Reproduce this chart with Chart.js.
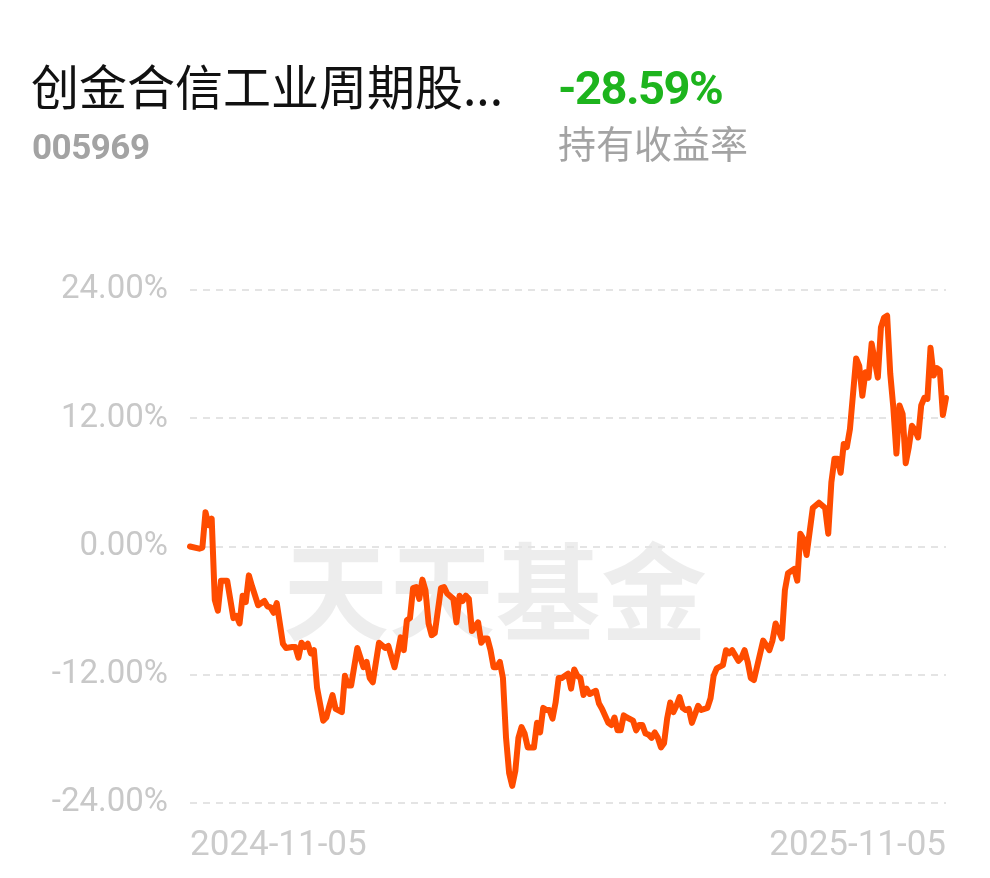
<!DOCTYPE html>
<html>
<head>
<meta charset="utf-8">
<script src="https://cdn.jsdelivr.net/npm/chart.js@4.4.1/dist/chart.umd.min.js"></script>
<style>
html,body{margin:0;padding:0;background:#fff;}
#wrap{position:relative;width:990px;height:878px;overflow:hidden;}
#c{position:absolute;left:0;top:0;}
.t{position:absolute;white-space:nowrap;line-height:1;}
#title{left:31px;top:49px;font:48px "Noto Sans CJK SC",sans-serif;color:#111;}
#pct{left:558px;top:60px;font:bold 47px Roboto,"Noto Sans",sans-serif;color:#1db41d;letter-spacing:-1.5px;}
#code{left:32px;top:127px;font:bold 35px Roboto,"Noto Sans",sans-serif;color:#a3a3a3;letter-spacing:-0.5px;}
#lbl{left:558px;top:114px;font:38px "Noto Sans CJK SC",sans-serif;color:#a3a3a3;}
</style>
</head>
<body>
<div id="wrap">
<canvas id="c" width="990" height="878"></canvas>
<div class="t" id="title">创金合信工业周期股...</div>
<div class="t" id="pct">-28.59%</div>
<div class="t" id="code">005969</div>
<div class="t" id="lbl">持有收益率</div>
</div>
<script>
const fundName = '创金合信工业周期股...';
const xTickLabels = ['2024-11-05', '2025-11-05'];
const yTicks = [-24, -12, 0, 12, 24];
const watermark = '天天基金';

// trading-day index since start
const dayIndex = [
0,3,4,5,6,7,8,9,10,12,14,15,16,17,18,19,20,22,24,25,26,27,28,30,31,33,34,35,36,37,38,39,40,41,43,44,45,46,47,49,50,51,52,54,56,57,58,59,
61,63,64,66,67,68,69,70,71,72,73,74,75,76,77,78,79,80,81,82,83,85,86,87,88,89,90,91,93,94,95,96,97,98,99,100,101,102,103,104,105,106,107,108,109,111,112,113,114,115,116,117,118,119,
120,122,123,124,125,126,127,128,129,131,132,133,135,136,137,138,139,140,141,143,144,145,146,147,148,149,150,151,152,153,154,155,156,157,158,159,160,161,162,164,165,167,168,169,170,172,173,174,175,177,178,179,180,181,182,
185,187,188,189,191,192,193,195,196,197,198,199,201,203,205,206,207,208,209,210,211,212,213,215,216,217,218,219,220,222,223,224,225,226,227,228,229,230,231,232,233,234,235,236,237,238,239,240,241,242,243,244
];
// holding return, %
const returns = [
0.0,-0.2,-0.1,3.2,2.0,2.6,-5.0,-6.0,-3.2,-3.2,-6.7,-6.5,-7.2,-4.6,-5.2,-2.7,-3.7,-5.5,-5.1,-5.6,-5.7,-6.2,-5.3,-9.1,-9.5,-9.4,-9.4,-10.4,-9.0,-9.4,-9.1,-10.0,-9.7,-13.2,-16.3,-16.0,-14.9,-13.9,-15.2,-15.5,-12.1,-13.0,-13.0,-9.5,-11.3,-10.8,-12.3,-12.7,
-9.0,-9.5,-9.3,-11.3,-10.0,-8.5,-9.7,-6.9,-6.7,-3.9,-3.8,-4.9,-3.1,-4.1,-7.2,-8.3,-8.1,-6.0,-3.9,-3.8,-4.4,-4.9,-7.1,-4.6,-5.1,-4.6,-4.9,-7.9,-7.1,-9.0,-8.6,-8.6,-9.7,-11.3,-11.3,-10.8,-12.3,-17.9,-21.2,-22.4,-21.0,-17.9,-16.9,-17.5,-18.8,-18.8,-16.5,-17.4,-15.1,-15.3,-15.3,-16.1,-14.6,-12.3,
-12.3,-11.9,-13.3,-11.5,-12.1,-12.3,-13.9,-13.3,-13.8,-13.5,-14.7,-15.2,-16.5,-16.7,-16.0,-17.2,-17.2,-15.8,-16.0,-16.3,-17.2,-16.7,-16.7,-17.5,-17.6,-17.9,-17.4,-17.9,-18.8,-18.4,-16.1,-14.6,-15.5,-14.9,-14.1,-15.1,-15.3,-15.2,-16.5,-14.9,-15.3,-15.1,-14.2,-12.1,-11.4,-11.1,-9.7,-10.0,-9.7,-10.7,-10.4,-9.7,-10.8,-12.3,-12.5,
-8.8,-9.7,-8.8,-7.2,-8.6,-4.1,-2.5,-2.1,-3.2,1.2,0.7,-0.8,3.6,4.1,3.6,1.2,6.0,8.2,8.2,6.9,9.6,9.3,11.0,17.6,16.9,14.1,16.3,15.8,19.0,15.8,20.5,21.4,21.6,16.2,13.0,8.7,13.2,12.4,7.8,9.3,11.3,10.9,10.2,13.2,13.9,13.8,18.6,16.0,16.7,16.5,12.3,13.9
];

const points = dayIndex.map((d, i) => ({x: d, y: returns[i]}));
const lastDay = dayIndex[dayIndex.length - 1];

const watermarkPlugin = {
  id: 'wm',
  beforeDraw(chart) {
    const ctx = chart.ctx;
    ctx.save();
    ctx.font = 'bold 106px "Noto Sans CJK SC", sans-serif';
    ctx.fillStyle = 'rgba(0,0,0,0.07)';
    ctx.textAlign = 'center';
    ctx.textBaseline = 'middle';
    const a = chart.chartArea;
    ctx.fillText(watermark, (a.left + a.right) / 2 - 73, chart.scales.y.getPixelForValue(-4.2));
    ctx.restore();
  }
};

new Chart(document.getElementById('c'), {
  type: 'line',
  data: {
    datasets: [{
      data: points,
      borderColor: 'rgb(255,76,0)',
      borderWidth: 6,
      pointRadius: 0,
      tension: 0,
      borderJoinStyle: 'round',
      borderCapStyle: 'round',
      fill: false
    }]
  },
  options: {
    responsive: false,
    animation: false,
    events: [],
    clip: false,
    layout: {padding: {left: 0, right: 44, top: 290, bottom: 0}},
    plugins: {legend: {display: false}, tooltip: {enabled: false}},
    scales: {
      x: {
        type: 'linear',
        min: 0,
        max: lastDay,
        afterBuildTicks: (s) => { s.ticks = [{value: 0}, {value: lastDay}]; },
        afterFit: (s) => { s.height = 75; },
        grid: {display: false, drawTicks: false},
        border: {display: false},
        ticks: {
          align: 'inner',
          maxRotation: 0,
          padding: 22,
          color: '#cbcbcb',
          font: {family: 'Roboto', size: 35},
          callback: (v, i) => xTickLabels[i]
        }
      },
      y: {
        min: -24,
        max: 24,
        afterBuildTicks: (s) => { s.ticks = yTicks.map(v => ({value: v})); },
        afterFit: (s) => { s.width = 190; },
        grid: {color: '#e4e4e4', lineWidth: 2, drawTicks: false},
        border: {display: false, dash: [7, 6]},
        ticks: {
          padding: 22,
          color: '#c8c8c8',
          font: {family: 'Roboto', size: 33},
          callback: (v) => v.toFixed(2) + '%'
        }
      }
    }
  },
  plugins: [watermarkPlugin]
});
</script>
</body>
</html>
